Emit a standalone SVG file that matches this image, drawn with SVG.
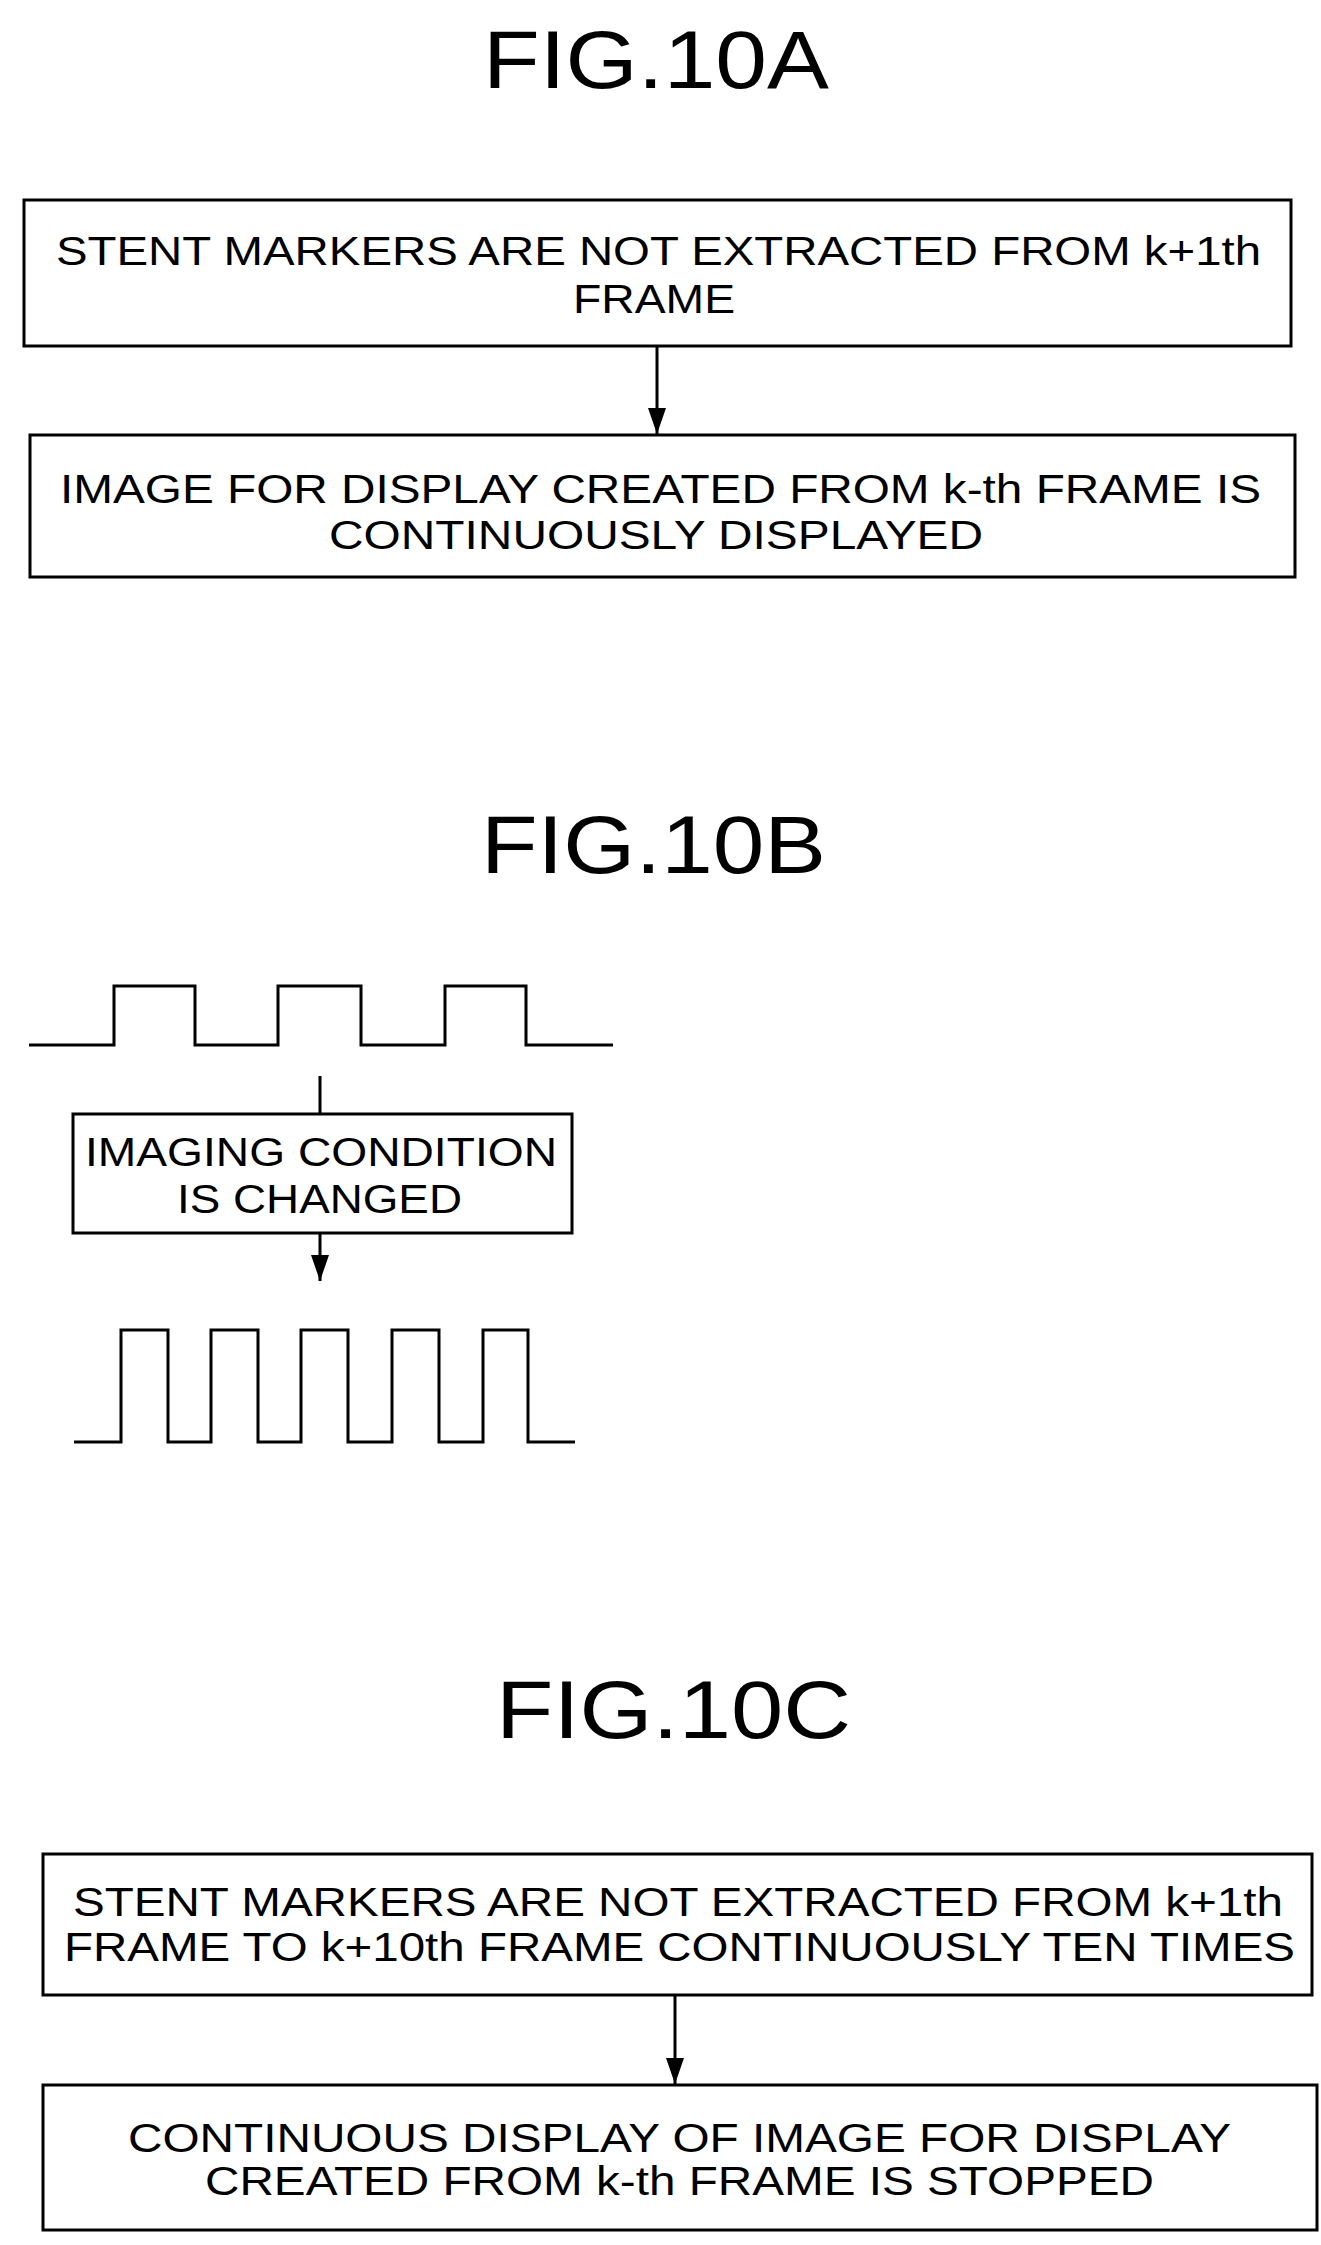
<svg xmlns="http://www.w3.org/2000/svg" width="1321" height="2245" viewBox="0 0 1321 2245">
<style>
.t{font-family:"Liberation Sans",Arial,sans-serif;font-size:40px;fill:#000}
.h{font-family:"Liberation Sans",Arial,sans-serif;font-size:82px;fill:#000}
.b{fill:#fff;stroke:#000;stroke-width:3}
.c{fill:none;stroke:#000;stroke-width:3}
</style>
<defs><marker id="ar" markerWidth="26" markerHeight="18" refX="26" refY="9" orient="auto" markerUnits="userSpaceOnUse" viewBox="0 0 26 18"><path d="M0,0 L26,9 L0,18 Z" fill="#000"/></marker></defs>
<rect width="1321" height="2245" fill="#fff"/>
<text class="h" x="483" y="88" textLength="346" lengthAdjust="spacingAndGlyphs">FIG.10A</text>
<text class="h" x="481" y="873" textLength="345" lengthAdjust="spacingAndGlyphs">FIG.10B</text>
<text class="h" x="496" y="1738" textLength="355" lengthAdjust="spacingAndGlyphs">FIG.10C</text>
<g id="connectors">
<line class="c" x1="657" y1="346" x2="657" y2="434" marker-end="url(#ar)"/>
<line class="c" x1="320" y1="1076" x2="320" y2="1114"/>
<line class="c" x1="320" y1="1233" x2="320" y2="1281" marker-end="url(#ar)"/>
<line class="c" x1="675" y1="1995" x2="675" y2="2084" marker-end="url(#ar)"/>
</g>
<g id="n1"><rect class="b" x="24" y="200" width="1267" height="146"/>
<text class="t" x="56" y="265" textLength="1205" lengthAdjust="spacingAndGlyphs">STENT MARKERS ARE NOT EXTRACTED FROM k+1th</text>
<text class="t" x="573" y="313" textLength="162" lengthAdjust="spacingAndGlyphs">FRAME</text></g>
<g id="n2"><rect class="b" x="30" y="435" width="1265" height="142"/>
<text class="t" x="60" y="503" textLength="1201" lengthAdjust="spacingAndGlyphs">IMAGE FOR DISPLAY CREATED FROM k-th FRAME IS</text>
<text class="t" x="329" y="549" textLength="654" lengthAdjust="spacingAndGlyphs">CONTINUOUSLY DISPLAYED</text></g>
<g id="wave1"><polyline class="c" points="29,1045 114,1045 114,986 195,986 195,1045 278,1045 278,986 361,986 361,1045 445,1045 445,986 526,986 526,1045 613,1045"/></g>
<g id="n3"><rect class="b" x="73" y="1114" width="499" height="119"/>
<text class="t" x="85" y="1166" textLength="472" lengthAdjust="spacingAndGlyphs">IMAGING CONDITION</text>
<text class="t" x="177" y="1213" textLength="285" lengthAdjust="spacingAndGlyphs">IS CHANGED</text></g>
<g id="wave2"><polyline class="c" points="74,1442 121,1442 121,1330 168,1330 168,1442 211,1442 211,1330 258,1330 258,1442 301,1442 301,1330 348,1330 348,1442 392,1442 392,1330 439,1330 439,1442 483,1442 483,1330 528,1330 528,1442 575,1442"/></g>
<g id="n5"><rect class="b" x="43" y="1854" width="1269" height="141"/>
<text class="t" x="73" y="1916" textLength="1210" lengthAdjust="spacingAndGlyphs">STENT MARKERS ARE NOT EXTRACTED FROM k+1th</text>
<text class="t" x="64" y="1961" textLength="1231" lengthAdjust="spacingAndGlyphs">FRAME TO k+10th FRAME CONTINUOUSLY TEN TIMES</text></g>
<g id="n6"><rect class="b" x="43" y="2085" width="1274" height="145"/>
<text class="t" x="128" y="2152" textLength="1103" lengthAdjust="spacingAndGlyphs">CONTINUOUS DISPLAY OF IMAGE FOR DISPLAY</text>
<text class="t" x="205" y="2195" textLength="949" lengthAdjust="spacingAndGlyphs">CREATED FROM k-th FRAME IS STOPPED</text></g>
</svg>
